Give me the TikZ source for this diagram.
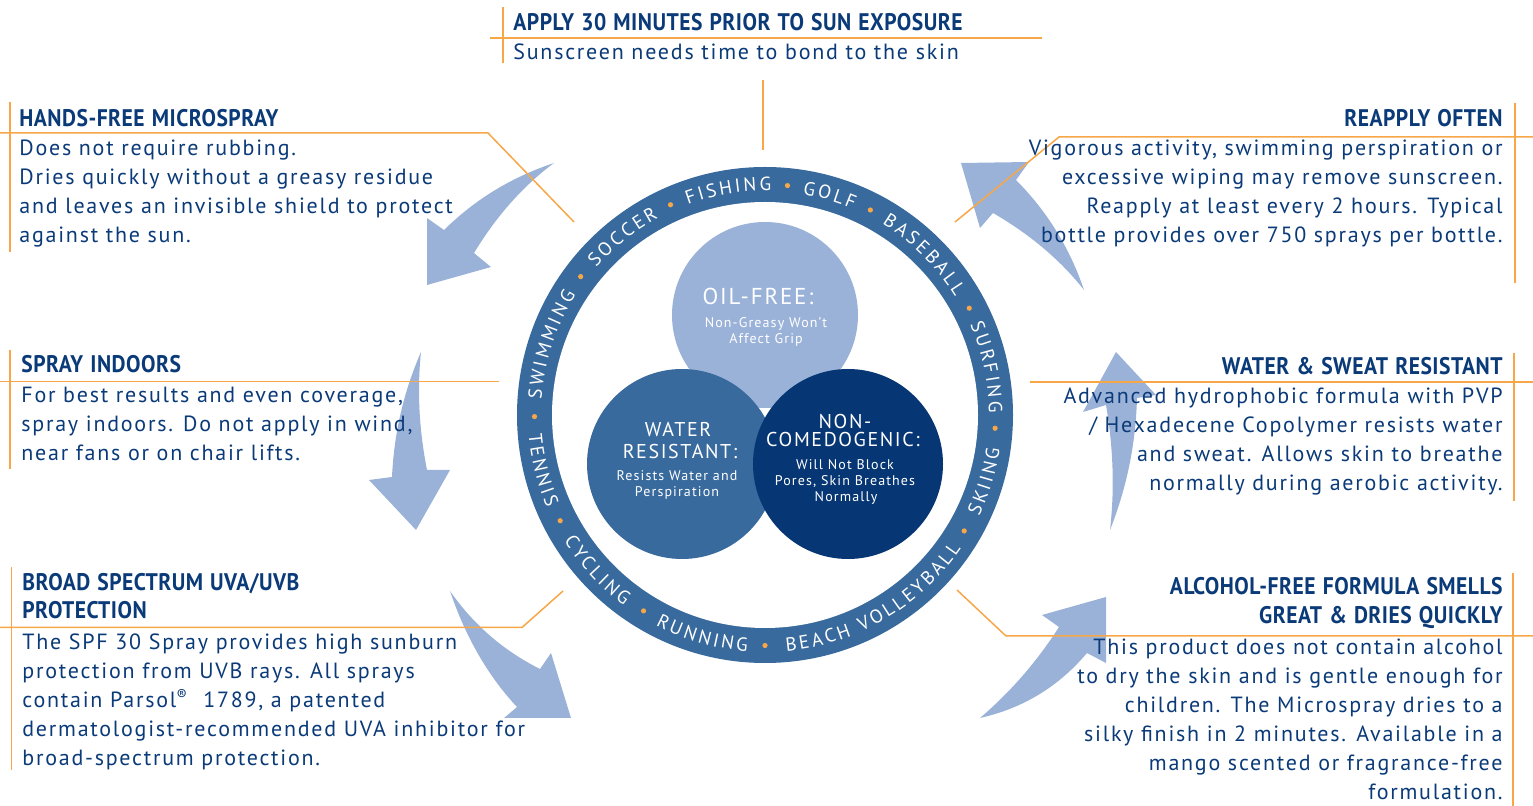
\documentclass[tikz,border=0pt]{standalone}
\usepackage{fontspec}
\usetikzlibrary{decorations.text}
\setmainfont{PT Sans}
\newfontfamily\bodyfont[LetterSpace=8]{PT Sans}
\newfontfamily\headfont[FakeStretch=0.9, LetterSpace=2, WordSpace=1.2]{PT Sans}
\newfontfamily\ringfont[WordSpace=0.55]{PT Sans}
\newfontfamily\circfont[LetterSpace=8]{PT Sans}
\definecolor{navy}{RGB}{10,58,120}
\definecolor{ringblue}{RGB}{56,106,157}
\definecolor{paleblue}{RGB}{155,178,216}
\definecolor{deepblue}{RGB}{6,54,115}
\definecolor{leadorange}{RGB}{247,166,72}
\tikzstyle{body}=[font=\bodyfont\fontsize{11}{14}\selectfont, text=navy, inner sep=0]
\tikzstyle{head}=[font=\headfont\bfseries\fontsize{12}{14}\selectfont, text=navy, inner sep=0]
\tikzstyle{leader}=[draw=leadorange, line width=0.75pt]
\tikzstyle{sweep}=[fill=paleblue]
\tikzstyle{title}=[font=\circfont\fontsize{10}{12}\selectfont, text=white, inner sep=0]
\tikzstyle{bigtitle}=[font=\circfont\fontsize{11.5}{12}\selectfont, text=white, inner sep=0]
\tikzstyle{note}=[font=\circfont\fontsize{7}{8}\selectfont, text=white, inner sep=0]
\tikzstyle{sport}=[decorate, decoration={text along path, text align=center, text color=white}]
\newcommand{\rf}{\ringfont\fontsize{9.5}{9.5}\selectfont}

\begin{document}
\begin{tikzpicture}[x=0.5pt, y=0.5pt]
\useasboundingbox (0,0) rectangle (1533,-806);
% curved arrows
\fill[sweep] (554,-163) .. controls (512,-177) and (475.5,-199) .. (444,-230) -- (427,-218) -- (427,-285) -- (491,-267) -- (474,-253) .. controls (496.5,-216) and (523,-186) .. (554,-163) -- cycle;
\fill[sweep] (421,-352) .. controls (403.5,-392) and (394,-433.5) .. (392,-477) -- (369,-480) -- (416,-530) -- (450,-470) -- (427,-470) .. controls (419,-429) and (417,-390) .. (421,-352) -- cycle;
\fill[sweep] (450,-591) .. controls (473.4,-624.6) and (503.4,-650.6) .. (540,-669) -- (551,-653) -- (571,-718) -- (504,-718) -- (517,-707) .. controls (488,-676) and (465.7,-637.3) .. (450,-591) -- cycle;
\fill[sweep] (980,-718) .. controls (1010.8,-691.6) and (1037.2,-661.2) .. (1059,-627) -- (1042,-615) -- (1106,-597) -- (1106,-663) -- (1087,-653) .. controls (1058.6,-686.7) and (1023,-708.3) .. (980,-718) -- cycle;
\fill[sweep] (1110,-530) .. controls (1114.7,-489.3) and (1113.3,-447.7) .. (1106,-405) -- (1083,-412) -- (1116,-352) -- (1156,-395) -- (1137,-398) .. controls (1135.8,-443.6) and (1126.8,-487.6) .. (1110,-530) -- cycle;
\fill[sweep] (1084,-290) .. controls (1060.5,-260.1) and (1030.1,-234.5) .. (993,-213) -- (980,-228) -- (961,-163) -- (1029,-162) -- (1016,-180) .. controls (1047.2,-211.4) and (1069.8,-248) .. (1084,-290) -- cycle;
% ring and circles
\fill[ringblue] (765,-415) circle [radius=248];
\fill[white] (765,-415) circle [radius=213];
\fill[paleblue] (765,-315) circle [radius=93];
\fill[ringblue] (682,-464) circle [radius=95];
\fill[deepblue] (848,-464) circle [radius=95];
% sports on the ring
\path[sport, decoration={text={|\rf|S W I M M I N G}}] (765,-415) ++(206.75:224) arc [start angle=206.75, end angle=116.75, radius=224];
\path[sport, decoration={text={|\rf|S O C C E R}}] (765,-415) ++(173.65:224) arc [start angle=173.65, end angle=83.65, radius=224];
\path[sport, decoration={text={|\rf|F I S H I N G}}] (765,-415) ++(144.3:224) arc [start angle=144.3, end angle=54.3, radius=224];
\path[sport, decoration={text={|\rf|G O L F}}] (765,-415) ++(118.6:224) arc [start angle=118.6, end angle=28.6, radius=224];
\path[sport, decoration={text={|\rf|B A S E B A L L}}] (765,-415) ++(90.2:224) arc [start angle=90.2, end angle=0.2, radius=224];
\path[sport, decoration={text={|\rf|S U R F I N G}}] (765,-415) ++(57.15:224) arc [start angle=57.15, end angle=-32.85, radius=224];
\path[sport, decoration={text={|\rf|S K I I N G}}] (765,-415) ++(-61.75:237) arc [start angle=-61.75, end angle=28.25, radius=237];
\path[sport, decoration={text={|\rf|V O L L E Y B A L L}}] (765,-415) ++(-95.1:237) arc [start angle=-95.1, end angle=-5.1, radius=237];
\path[sport, decoration={text={|\rf|B E A C H}}] (765,-415) ++(-121.7:237) arc [start angle=-121.7, end angle=-31.7, radius=237];
\path[sport, decoration={text={|\rf|R U N N I N G}}] (765,-415) ++(-150.9:237) arc [start angle=-150.9, end angle=-60.9, radius=237];
\path[sport, decoration={text={|\rf|C Y C L I N G}}] (765,-415) ++(-182.25:237) arc [start angle=-182.25, end angle=-92.25, radius=237];
\path[sport, decoration={text={|\rf|T E N N I S}}] (765,-415) ++(-211.15:237) arc [start angle=-211.15, end angle=-121.15, radius=237];
\fill[leadorange] (765,-415) ++(180.4:230.5) circle [radius=2.6];
\fill[leadorange] (765,-415) ++(143.1:230.5) circle [radius=2.6];
\fill[leadorange] (765,-415) ++(114.2:230.5) circle [radius=2.6];
\fill[leadorange] (765,-415) ++(84.4:230.5) circle [radius=2.6];
\fill[leadorange] (765,-415) ++(62.8:230.5) circle [radius=2.6];
\fill[leadorange] (765,-415) ++(27.6:230.5) circle [radius=2.6];
\fill[leadorange] (765,-415) ++(-3.3:230.5) circle [radius=2.6];
\fill[leadorange] (765,-415) ++(-30.2:230.5) circle [radius=2.6];
\fill[leadorange] (765,-415) ++(-90:230.5) circle [radius=2.6];
\fill[leadorange] (765,-415) ++(-121.8:230.5) circle [radius=2.6];
\fill[leadorange] (765,-415) ++(-152.7:230.5) circle [radius=2.6];
% texts in the circles
\node[bigtitle, anchor=base] (oilT) at (758,-305) {OIL-FREE:};
\node[note, anchor=base] (oil1) at (766,-328) {Non-Greasy Won’t};
\node[note, anchor=base] (oil2) at (766,-344) {Affect Grip};
\node[title, anchor=base] (watT1) at (678,-437) {WATER};
\node[title, anchor=base] (watT2) at (680,-459) {RESISTANT:};
\node[note, anchor=base] (wat1) at (677,-481) {Resists Water and};
\node[note, anchor=base] (wat2) at (677,-497) {Perspiration};
\node[title, anchor=base] (comT1) at (845,-429) {NON-};
\node[title, anchor=base] (comT2) at (843,-447) {COMEDOGENIC:};
\node[note, anchor=base] (com1) at (845,-470) {Will Not Block};
\node[note, anchor=base] (com2) at (845,-486) {Pores, Skin Breathes};
\node[note, anchor=base] (com3) at (846,-502) {Normally};
% leader lines
\coordinate (apL) at (490,-38); \coordinate (apR) at (1042,-38);
\coordinate (apT) at (503,-7); \coordinate (apB) at (503,-63);
\coordinate (apC1) at (763,-80); \coordinate (apC2) at (763,-150);
\draw[leader] (apL) -- (apR);
\draw[leader] (apT) -- (apB);
\draw[leader] (apC1) -- (apC2);
\coordinate (hfL) at (0,-133); \coordinate (hfK) at (488,-133); \coordinate (hfE) at (574,-222);
\coordinate (hfT) at (10,-102); \coordinate (hfB) at (10,-252);
\draw[leader] (hfL) -- (hfK) -- (hfE);
\draw[leader] (hfT) -- (hfB);
\coordinate (siL) at (0,-381.5); \coordinate (siE) at (499,-381.5);
\coordinate (siT) at (10,-350); \coordinate (siB) at (10,-469);
\draw[leader] (siL) -- (siE);
\draw[leader] (siT) -- (siB);
\coordinate (bsL) at (0,-627.5); \coordinate (bsK) at (522,-627.5); \coordinate (bsE) at (563,-591);
\coordinate (bsT) at (11.5,-567); \coordinate (bsB) at (11.5,-770);
\draw[leader] (bsL) -- (bsK) -- (bsE);
\draw[leader] (bsT) -- (bsB);
\coordinate (raR) at (1533,-137); \coordinate (raK) at (1059,-137); \coordinate (raE) at (955,-222);
\coordinate (raT) at (1515,-103); \coordinate (raB) at (1515,-283);
\draw[leader] (raR) -- (raK) -- (raE);
\draw[leader] (raT) -- (raB);
\coordinate (wsR) at (1533,-382); \coordinate (wsE) at (1030,-382);
\coordinate (wsT) at (1514,-353); \coordinate (wsB) at (1514,-501);
\draw[leader] (wsR) -- (wsE);
\draw[leader] (wsT) -- (wsB);
\coordinate (afR) at (1533,-636); \coordinate (afK) at (1006,-636); \coordinate (afE) at (957,-590);
\coordinate (afT) at (1513,-573); \coordinate (afB) at (1513,-806);
\draw[leader] (afR) -- (afK) -- (afE);
\draw[leader] (afT) -- (afB);
% top block
\node[head, anchor=base west] (apH) at (513,-31) {APPLY 30 MINUTES PRIOR TO SUN EXPOSURE};
\node[body, anchor=base west] (ap1) at (513,-60) {Sunscreen needs time to bond to the skin};
% left blocks
\node[head, anchor=base west] (hfH) at (19,-127) {HANDS-FREE MICROSPRAY};
\node[body, anchor=base west] (hf1) at (19,-156) {Does not require rubbing.};
\node[body, anchor=base west] (hf2) at (19,-185) {Dries quickly without a greasy residue};
\node[body, anchor=base west] (hf3) at (19,-214) {and leaves an invisible shield to protect};
\node[body, anchor=base west] (hf4) at (19,-243) {against the sun.};
\node[head, anchor=base west] (siH) at (21,-373) {SPRAY INDOORS};
\node[body, anchor=base west] (si1) at (21,-403) {For best results and even coverage,};
\node[body, anchor=base west] (si2) at (21,-432) {spray indoors. Do not apply in wind,};
\node[body, anchor=base west] (si3) at (21,-461) {near fans or on chair lifts.};
\node[head, anchor=base west] (bsH1) at (22,-591) {BROAD SPECTRUM UVA/UVB};
\node[head, anchor=base west] (bsH2) at (22,-619) {PROTECTION};
\node[body, anchor=base west] (bs1) at (22,-650) {The SPF 30 Spray provides high sunburn};
\node[body, anchor=base west] (bs2) at (22,-679) {protection from UVB rays. All sprays};
\node[body, anchor=base west] (bs3) at (22,-708) {contain Parsol\textsuperscript{®}~ 1789, a patented};
\node[body, anchor=base west] (bs4) at (22,-737) {dermatologist-recommended UVA inhibitor for};
\node[body, anchor=base west] (bs5) at (22,-766) {broad-spectrum protection.};
% right blocks
\node[head, anchor=base east] (raH) at (1503,-127) {REAPPLY OFTEN};
\node[body, anchor=base east] (ra1) at (1503,-156) {Vigorous activity, swimming perspiration or};
\node[body, anchor=base east] (ra2) at (1503,-185) {excessive wiping may remove sunscreen.};
\node[body, anchor=base east] (ra3) at (1503,-214) {Reapply at least every 2 hours. Typical};
\node[body, anchor=base east] (ra4) at (1503,-243) {bottle provides over 750 sprays per bottle.};
\node[head, anchor=base east] (wsH) at (1503,-375) {WATER \& SWEAT RESISTANT};
\node[body, anchor=base east] (ws1) at (1503,-404) {Advanced hydrophobic formula with PVP};
\node[body, anchor=base east] (ws2) at (1503,-433) {/ Hexadecene Copolymer resists water};
\node[body, anchor=base east] (ws3) at (1503,-462) {and sweat. Allows skin to breathe};
\node[body, anchor=base east] (ws4) at (1503,-491) {normally during aerobic activity.};
\node[head, anchor=base east] (afH1) at (1503,-595) {ALCOHOL-FREE FORMULA SMELLS};
\node[head, anchor=base east] (afH2) at (1503,-624) {GREAT \& DRIES QUICKLY};
\node[body, anchor=base east] (af1) at (1503,-655) {This product does not contain alcohol};
\node[body, anchor=base east] (af2) at (1503,-684) {to dry the skin and is gentle enough for};
\node[body, anchor=base east] (af3) at (1503,-713) {children. The Microspray dries to a};
\node[body, anchor=base east] (af4) at (1503,-742) {silky finish in 2 minutes. Available in a};
\node[body, anchor=base east] (af5) at (1503,-771) {mango scented or fragrance-free};
\node[body, anchor=base east] (af6) at (1503,-800) {formulation.};
\end{tikzpicture}
\end{document}
